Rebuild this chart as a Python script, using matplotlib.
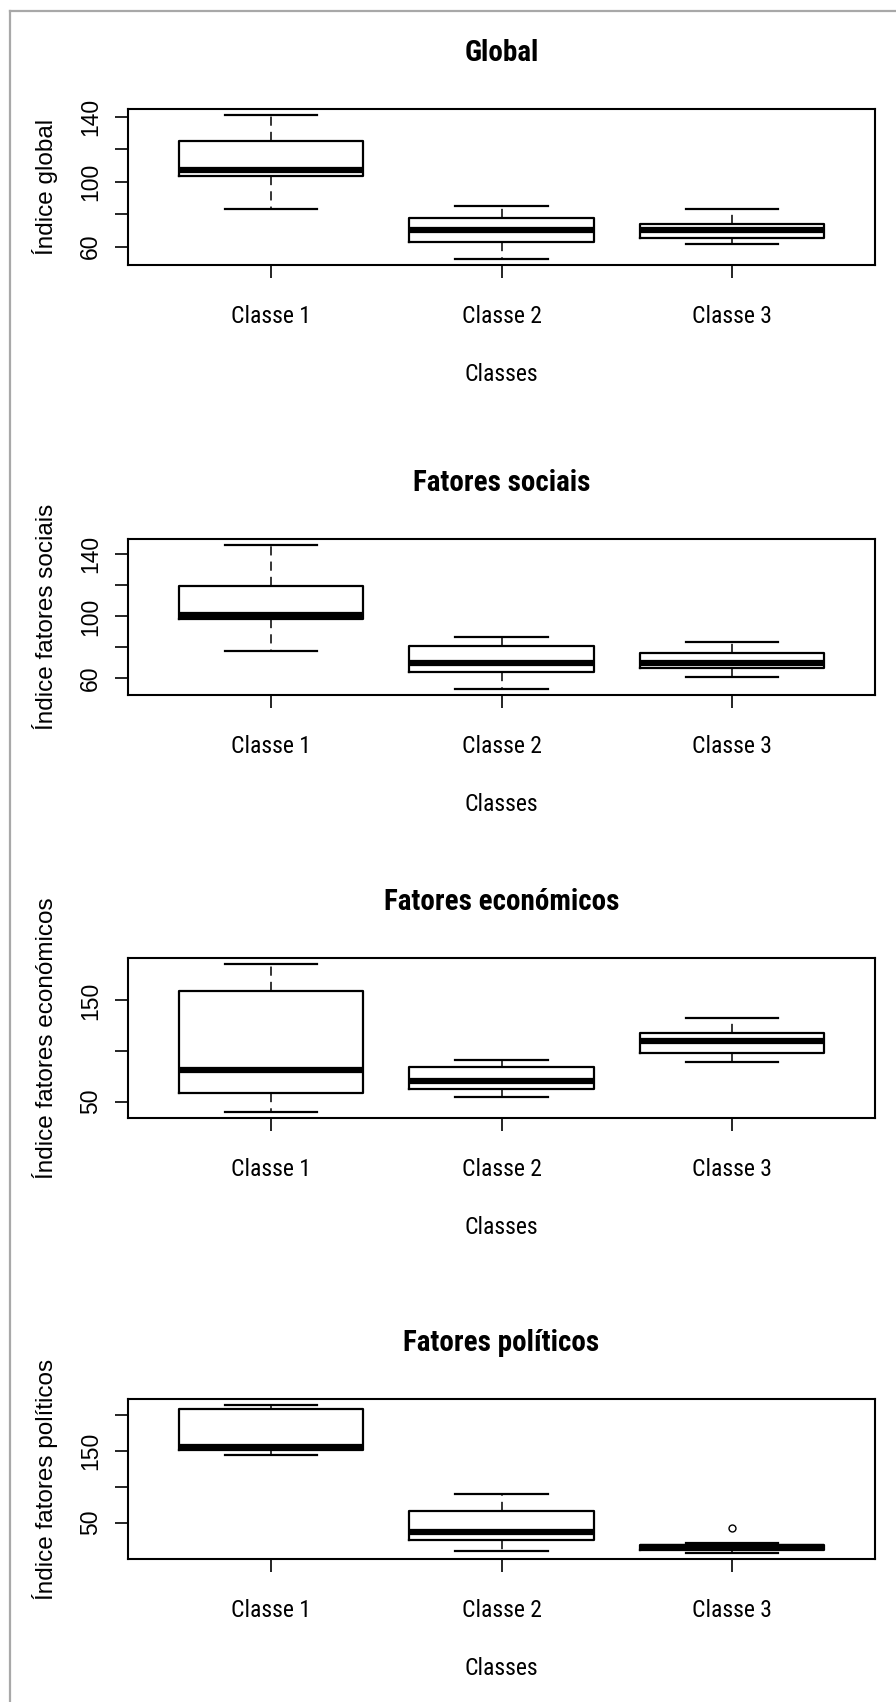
import matplotlib
matplotlib.use('Agg')
import matplotlib.pyplot as plt
from matplotlib.lines import Line2D
from matplotlib import font_manager

classes = ['Classe 1', 'Classe 2', 'Classe 3']
titles = ['Global', 'Fatores sociais', 'Fatores económicos', 'Fatores políticos']
ylabels = ['Índice global', 'Índice fatores sociais',
           'Índice fatores económicos', 'Índice fatores políticos']

# five-number summaries per class: whislo, q1, med, q3, whishi
global_stats = [[82.9, 103.3, 107.0, 125.1, 141.2],
                [52.2, 63.1, 70.2, 77.6, 85.1],
                [61.4, 65.5, 70.2, 73.9, 82.9]]
social_stats = [[77.4, 98.5, 100.6, 119.8, 146.2],
                [53.0, 64.1, 70.1, 81.2, 86.9],
                [60.8, 66.5, 69.7, 76.3, 83.3]]
econ_stats = [[39.7, 58.6, 81.5, 159.3, 186.0],
              [55.0, 62.0, 69.9, 83.8, 91.1],
              [89.1, 98.0, 110.3, 118.2, 132.8]]
polit_stats = [[144.0, 151.4, 154.5, 207.3, 213.3],
               [10.6, 26.1, 37.2, 66.0, 90.4],
               [7.8, 12.4, 16.1, 19.3, 21.6]]
polit_outliers = [[], [], [42.7]]

yticks = [[60, 80, 100, 120, 140], [60, 80, 100, 120, 140],
          [50, 100, 150], [50, 100, 150, 200]]
ytick_labels = [['60', '', '100', '', '140'], ['60', '', '100', '', '140'],
                ['50', '', '150'], ['50', '', '150', '']]

all_stats = [global_stats, social_stats, econ_stats, polit_stats]
all_fliers = [[[], [], []], [[], [], []], [[], [], []], polit_outliers]

W, H = 896, 1702
# axes boxes in pixels: left, right, top, bottom
left_px, right_px = 128, 875
tops = [109, 539, 958, 1399]
bottoms = [265, 695, 1118, 1559]

# the horizontal text in the original is narrow; use a narrow face if there is one
names = {f.name for f in font_manager.fontManager.ttflist}
narrow_face = None
for cand in ['Liberation Sans Narrow', 'Arial Narrow', 'Roboto Condensed', 'Open Sans Condensed']:
    if cand in names:
        narrow_face = cand
        break
if narrow_face:
    narrow = [narrow_face, 'Liberation Sans', 'DejaVu Sans']
    tick_fs, title_fs = 17, 21
else:
    narrow = ['Liberation Sans', 'DejaVu Sans']
    tick_fs, title_fs = 14, 17.4
regular = ['Liberation Sans', 'DejaVu Sans']
ytick_fs = 16.5

px = 100 / 72  # pixels per point
tick_len = 13
xpad = 49 - tick_len - 0.38 * tick_fs * px
xlabpad = 107.5 - (tick_len + xpad + 0.99 * tick_fs * px) - 0.38 * tick_fs * px
tpad = 58.3 - 0.358 * title_fs * px
ypad = 39 - tick_len - 0.57 * ytick_fs * px

fig = plt.figure(figsize=(W / 100, H / 100), dpi=100)
fig.patch.set_facecolor('white')

# grey frame at top and left
fig.add_artist(Line2D([9.5 / W, 9.5 / W], [0, 1 - 11 / H], color='#a8a8a8', lw=1.6))
fig.add_artist(Line2D([9.5 / W, 1], [1 - 11 / H, 1 - 11 / H], color='#a8a8a8', lw=1.6))

for i in range(4):
    ax = fig.add_axes([left_px / W, 1 - bottoms[i] / H,
                       (right_px - left_px) / W, (bottoms[i] - tops[i]) / H])
    stats = []
    for s, fl, lab in zip(all_stats[i], all_fliers[i], classes):
        stats.append(dict(whislo=s[0], q1=s[1], med=s[2], q3=s[3], whishi=s[4],
                          fliers=fl, label=lab))
    ax.bxp(stats, positions=[1, 2, 3], widths=0.8, capwidths=0.4,
           showfliers=True,
           boxprops=dict(color='black', linewidth=1.6),
           medianprops=dict(color='black', linewidth=4.5, solid_capstyle='butt'),
           whiskerprops=dict(color='black', linewidth=1.1, linestyle=(0, (6, 4))),
           capprops=dict(color='black', linewidth=1.6),
           flierprops=dict(marker='o', markerfacecolor='none',
                           markeredgecolor='black', markersize=5, markeredgewidth=1))

    vals = [v for s in all_stats[i] for v in s] + [v for f in all_fliers[i] for v in f]
    lo, hi = min(vals), max(vals)
    ext = 0.04 * (hi - lo)
    ax.set_ylim(lo - ext, hi + ext)
    ax.set_xlim(0.38, 3.62)

    ax.set_yticks(yticks[i])
    ax.set_yticklabels(ytick_labels[i], family=regular, fontsize=ytick_fs)
    for t in ax.get_yticklabels():
        t.set_rotation(90)
        t.set_va('center')
        t.set_ha('right')
    ax.set_xticks([1, 2, 3])
    ax.set_xticklabels(classes, family=narrow, fontsize=tick_fs)

    ax.tick_params(axis='both', direction='out', length=tick_len / px, width=1.2, color='black')
    ax.tick_params(axis='x', pad=xpad / px)
    ax.tick_params(axis='y', pad=ypad / px)

    for sp in ax.spines.values():
        sp.set_linewidth(1.5)
        sp.set_color('black')

    ax.set_title(titles[i], family=narrow, fontsize=title_fs, fontweight='bold', pad=tpad / px)
    ax.set_xlabel('Classes', family=narrow, fontsize=tick_fs, labelpad=xlabpad / px)
    ax.set_ylabel(ylabels[i], family=regular, fontsize=17.5, labelpad=15)

fig.savefig('out.png', dpi=100, facecolor='white')
